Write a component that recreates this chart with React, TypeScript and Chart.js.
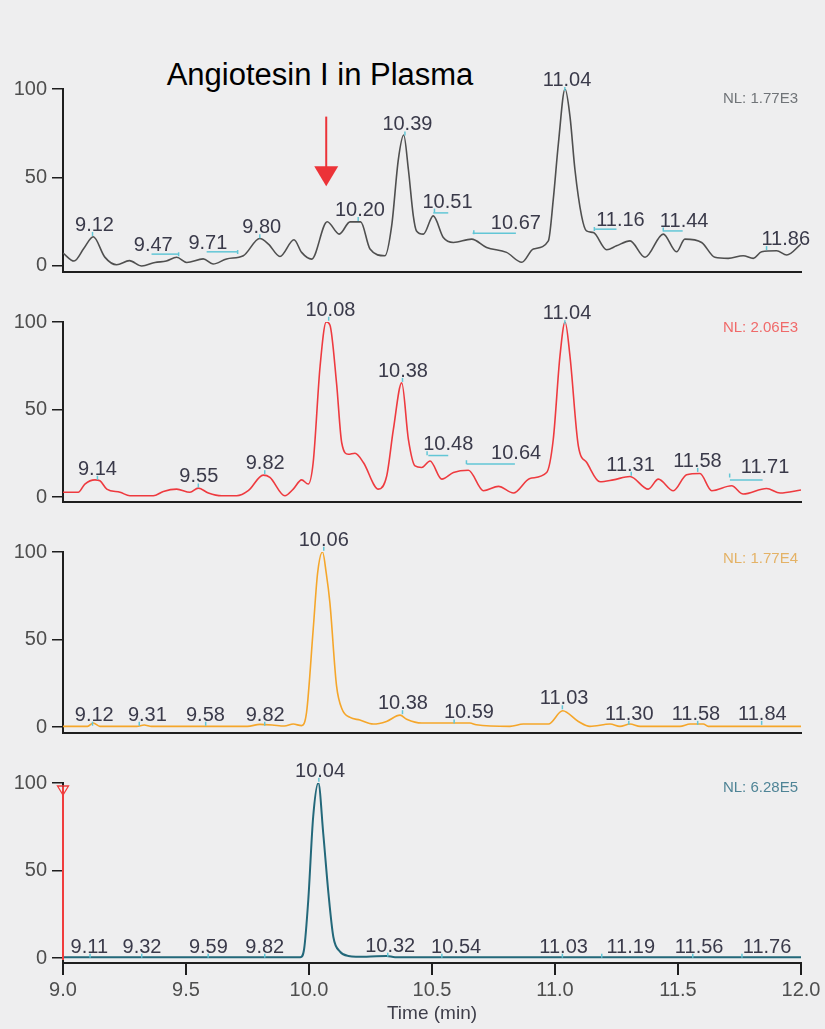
import React, { useEffect, useRef } from 'react';
import { Chart, registerables } from 'chart.js';

Chart.register(...registerables);

// ---------- data ----------
const titleText = 'Angiotesin I in Plasma';
const xAxisTitle = 'Time (min)';
const xTickValues = [9.0, 9.5, 10.0, 10.5, 11.0, 11.5, 12.0];
const yTickValues = [0, 50, 100];
const nlLabels = ['NL: 1.77E3', 'NL: 2.06E3', 'NL: 1.77E4', 'NL: 6.28E5'];
const nlLevels = [92.3, 94.1, 93.9, 94.7];

// panel 1 (grey)
const times1 = [9.0, 9.045, 9.085, 9.123, 9.17, 9.218, 9.27, 9.32, 9.374, 9.42, 9.462, 9.503, 9.57, 9.61, 9.665, 9.733, 9.8, 9.835, 9.882, 9.939, 9.97, 10.011, 10.074, 10.123, 10.167, 10.21, 10.248, 10.309, 10.336, 10.363, 10.385, 10.404, 10.424, 10.437, 10.465, 10.505, 10.546, 10.587, 10.661, 10.722, 10.803, 10.865, 10.912, 10.973, 10.993, 11.014, 11.041, 11.061, 11.081, 11.108, 11.128, 11.156, 11.21, 11.25, 11.305, 11.366, 11.44, 11.494, 11.528, 11.596, 11.65, 11.704, 11.765, 11.806, 11.84, 11.901, 11.942, 12.0];
const values1 = [7.3, 2.8, 10, 16.5, 5, 0.7, 3, 0, 2, 2.8, 4.9, 2, 4, 1.1, 4, 5.8, 15.5, 12.4, 5.4, 14.8, 7.7, 3.9, 25, 18, 24.9, 24.9, 9.6, 5.8, 22.6, 60, 74, 54.5, 28.3, 19.8, 18, 28.3, 16.1, 13.3, 15.2, 10.5, 7.7, 2.1, 9.6, 14.2, 37.6, 69.5, 100, 84.4, 54.5, 28.3, 19.8, 18.9, 9.2, 11.4, 14.2, 4.9, 18, 8, 15.2, 13.3, 4.9, 4.3, 5.8, 4.3, 8, 8.6, 6.2, 12.4];
const labels1 = ['9.12', '9.47', '9.71', '9.80', '10.20', '10.39', '10.51', '10.67', '11.04', '11.16', '11.44', '11.86'];
const labelTimes1 = [9.128, 9.367, 9.589, 9.808, 10.207, 10.40, 10.563, 10.841, 11.049, 11.266, 11.525, 11.938];
const labelLevels1 = [19.8, 8.3, 9.6, 18.5, 28.3, 76.6, 33, 20.8, 101.7, 22.6, 22.3, 11.8];
const segStart1 = [9.36, 9.584, 10.505, 10.665, 11.163, 11.44];
const segEnd1 = [9.469, 9.709, 10.566, 10.841, 11.25, 11.519];
const segLevel1 = [6.7, 8, 30, 18.5, 20.8, 19.8];

// panel 2 (red)
const times2 = [9.0, 9.062, 9.089, 9.13, 9.15, 9.178, 9.232, 9.272, 9.367, 9.408, 9.462, 9.516, 9.55, 9.591, 9.645, 9.706, 9.753, 9.814, 9.841, 9.902, 9.936, 9.97, 9.997, 10.017, 10.045, 10.07, 10.085, 10.112, 10.133, 10.16, 10.187, 10.221, 10.282, 10.316, 10.343, 10.377, 10.404, 10.431, 10.458, 10.492, 10.54, 10.587, 10.648, 10.709, 10.77, 10.831, 10.898, 10.966, 10.993, 11.02, 11.041, 11.061, 11.095, 11.129, 11.183, 11.237, 11.305, 11.379, 11.42, 11.481, 11.535, 11.589, 11.637, 11.718, 11.765, 11.86, 11.915, 12.0];
const values2 = [2.7, 2.7, 7.4, 9.8, 9.3, 4.5, 2.7, 0.7, 0.7, 3.2, 4.5, 2.7, 5.1, 2.3, 0.7, 0.7, 3.6, 12.5, 11.2, 0.7, 4.5, 9.8, 7.4, 19.7, 74.6, 100, 98.3, 65, 31, 24.4, 25, 19.7, 4.5, 12.1, 38.6, 65.2, 33, 17.8, 16.9, 20.6, 10.2, 14, 15.3, 3.6, 6.1, 2.3, 10.6, 14, 33, 80.3, 100, 80.3, 29.1, 19.7, 8.7, 9.8, 11.7, 4.5, 10.2, 3.6, 12.7, 13.4, 3.6, 6.4, 1.7, 4.9, 2.3, 4];
const labels2 = ['9.14', '9.55', '9.82', '10.08', '10.38', '10.48', '10.64', '11.04', '11.31', '11.58', '11.71'];
const labelTimes2 = [9.14, 9.552, 9.822, 10.087, 10.382, 10.566, 10.842, 11.049, 11.307, 11.579, 11.854];
const labelLevels2 = [12.7, 8.3, 15.9, 103.6, 68.6, 26.7, 21.6, 101.5, 15, 17.2, 14];
const segStart2 = [10.485, 10.641, 11.711];
const segEnd2 = [10.566, 10.837, 11.844];
const segLevel2 = [23.7, 18.8, 9.7];

// panel 3 (orange)
const times3 = [9.0, 9.1, 9.123, 9.15, 9.3, 9.33, 9.36, 9.75, 9.8, 9.85, 9.9, 9.936, 9.97, 9.99, 10.017, 10.035, 10.055, 10.07, 10.085, 10.112, 10.135, 10.167, 10.207, 10.261, 10.315, 10.37, 10.397, 10.458, 10.654, 10.68, 10.817, 10.871, 10.973, 11.031, 11.095, 11.142, 11.224, 11.264, 11.305, 11.346, 11.508, 11.549, 11.603, 11.623, 12.0];
const values3 = [0.4, 0.4, 2.3, 0.4, 0.4, 1.2, 0.4, 0.4, 1.5, 1.2, 0.6, 1.7, 0.8, 8.3, 55.7, 88, 100, 88, 70.9, 23.5, 10, 5.5, 4, 1.7, 3.2, 6.8, 4.5, 2.3, 2.3, 1.3, 0.4, 1.7, 1.7, 9.3, 3.2, 0.4, 1.7, 0.4, 1.7, 0.4, 0.4, 1.7, 1.7, 0.4, 0.4];
const labels3 = ['9.12', '9.31', '9.58', '9.82', '10.06', '10.38', '10.59', '11.03', '11.30', '11.58', '11.84'];
const labelTimes3 = [9.127, 9.343, 9.579, 9.822, 10.06, 10.382, 10.65, 11.037, 11.302, 11.573, 11.843];
const labelLevels3 = [3.6, 3.6, 3.6, 3.6, 103.6, 10.2, 4.9, 13, 4.1, 4.1, 4.1];
const segStart3: number[] = [];
const segEnd3: number[] = [];
const segLevel3: number[] = [];

// panel 4 (teal)
const times4 = [9.0, 9.965, 9.98, 9.997, 10.017, 10.038, 10.058, 10.079, 10.099, 10.126, 10.16, 10.234, 10.315, 10.35, 12.0];
const values4 = [0.4, 0.4, 5, 33, 80.7, 100, 71, 37, 12, 3.6, 1.2, 0.7, 1.2, 0.4, 0.4];
const labels4 = ['9.11', '9.32', '9.59', '9.82', '10.04', '10.32', '10.54', '11.03', '11.19', '11.56', '11.76'];
const labelTimes4 = [9.107, 9.321, 9.591, 9.82, 10.045, 10.33, 10.598, 11.035, 11.308, 11.586, 11.862];
const labelLevels4 = [3, 3, 3, 3, 103.6, 3.6, 3, 3, 3, 3, 3];
const segStart4: number[] = [];
const segEnd4: number[] = [];
const segLevel4: number[] = [];

// annotations
const arrowTime = 10.07;
const arrowTopLevel = 84.4;
const arrowTipLevel = 45.1;
const markerTime = 9.0;

// ---------- style / layout ----------
const FAMILY = "'Liberation Sans', Arial, Helvetica, sans-serif";
const BG = '#eeeeef';
const AXIS = '#1e1e1e';
const TICK_TEXT = '#4e4e4e';
const LABEL_TEXT = '#3a3a4a';
const CYAN = '#62c6d6';
const PAD_TOP = 40;
const X_AXIS_H = 62;
const X_HIDDEN_H = 16;
const CANVAS_W = 825;
const AREA_LEFT = 63;
const AREA_RIGHT = 801;

type Panel = {
  times: number[]; values: number[];
  labels: string[]; labelTimes: number[]; labelLevels: number[];
  segStart: number[]; segEnd: number[]; segLevel: number[];
  nl: string; nlLevel: number;
  color: string; nlColor: string; lineWidth: number;
  yMin: number; top: number; bottom: number;
  showX: boolean; arrow: boolean; marker: boolean;
};

const panels: Panel[] = [
  { times: times1, values: values1, labels: labels1, labelTimes: labelTimes1, labelLevels: labelLevels1,
    segStart: segStart1, segEnd: segEnd1, segLevel: segLevel1, nl: nlLabels[0], nlLevel: nlLevels[0],
    color: '#4f4f4f', nlColor: '#707478', lineWidth: 1.6, yMin: -3.4, top: 89, bottom: 273,
    showX: false, arrow: true, marker: false },
  { times: times2, values: values2, labels: labels2, labelTimes: labelTimes2, labelLevels: labelLevels2,
    segStart: segStart2, segEnd: segEnd2, segLevel: segLevel2, nl: nlLabels[1], nlLevel: nlLevels[1],
    color: '#ee3a3f', nlColor: '#f06a6a', lineWidth: 1.6, yMin: -2.85, top: 322, bottom: 503,
    showX: false, arrow: false, marker: false },
  { times: times3, values: values3, labels: labels3, labelTimes: labelTimes3, labelLevels: labelLevels3,
    segStart: segStart3, segEnd: segEnd3, segLevel: segLevel3, nl: nlLabels[2], nlLevel: nlLevels[2],
    color: '#f5a62a', nlColor: '#e4b266', lineWidth: 1.6, yMin: -3.4, top: 552, bottom: 734,
    showX: false, arrow: false, marker: false },
  { times: times4, values: values4, labels: labels4, labelTimes: labelTimes4, labelLevels: labelLevels4,
    segStart: segStart4, segEnd: segEnd4, segLevel: segLevel4, nl: nlLabels[3], nlLevel: nlLevels[3],
    color: '#23687a', nlColor: '#4f8496', lineWidth: 2, yMin: -2.86, top: 783, bottom: 963,
    showX: true, arrow: false, marker: true },
];

function makeAnnotPlugin(p: Panel, id: string) {
  return {
    id,
    afterDatasetsDraw(chart: any) {
      const { ctx, chartArea } = chart;
      const xs = chart.scales.x;
      const ys = chart.scales.y;
      ctx.save();
      // cyan baseline segments
      ctx.strokeStyle = CYAN;
      ctx.lineWidth = 1.5;
      p.segStart.forEach((t0, i) => {
        const yy = ys.getPixelForValue(p.segLevel[i]);
        ctx.beginPath();
        ctx.moveTo(xs.getPixelForValue(t0), yy);
        ctx.lineTo(xs.getPixelForValue(p.segEnd[i]), yy);
        ctx.stroke();
      });
      // peak labels
      ctx.font = `20px ${FAMILY}`;
      ctx.fillStyle = LABEL_TEXT;
      ctx.textAlign = 'center';
      ctx.textBaseline = 'alphabetic';
      p.labels.forEach((lab, i) => {
        const lx = xs.getPixelForValue(p.labelTimes[i]);
        const ly = ys.getPixelForValue(p.labelLevels[i]);
        const rx = xs.getPixelForValue(parseFloat(lab));
        ctx.beginPath();
        ctx.moveTo(rx, ly + 1);
        ctx.lineTo(rx, ly + 5);
        ctx.stroke();
        ctx.fillText(lab, lx, ly);
      });
      // NL label
      ctx.font = `15px ${FAMILY}`;
      ctx.fillStyle = p.nlColor;
      ctx.textAlign = 'right';
      ctx.fillText(p.nl, chartArea.right - 3, ys.getPixelForValue(p.nlLevel));
      // arrow
      if (p.arrow) {
        const ax = xs.getPixelForValue(arrowTime);
        const yTop = ys.getPixelForValue(arrowTopLevel);
        const yTip = ys.getPixelForValue(arrowTipLevel);
        ctx.strokeStyle = '#ec3338';
        ctx.fillStyle = '#ec3338';
        ctx.lineWidth = 2;
        ctx.beginPath();
        ctx.moveTo(ax, yTop);
        ctx.lineTo(ax, yTip - 18);
        ctx.stroke();
        ctx.beginPath();
        ctx.moveTo(ax - 12, yTip - 20);
        ctx.lineTo(ax + 12, yTip - 20);
        ctx.lineTo(ax, yTip);
        ctx.closePath();
        ctx.fill();
      }
      // red marker at start
      if (p.marker) {
        const mx = xs.getPixelForValue(markerTime);
        const yTop = ys.getPixelForValue(100);
        const yBot = ys.getPixelForValue(0);
        ctx.strokeStyle = '#f03c3c';
        ctx.lineWidth = 2;
        ctx.beginPath();
        ctx.moveTo(mx, yTop + 4);
        ctx.lineTo(mx, yBot + 2);
        ctx.stroke();
        ctx.lineWidth = 1.3;
        ctx.beginPath();
        ctx.moveTo(mx - 5.5, yTop + 3);
        ctx.lineTo(mx + 5.5, yTop + 3);
        ctx.lineTo(mx, yTop + 12);
        ctx.closePath();
        ctx.stroke();
      }
      ctx.restore();
    },
  };
}

function PanelChart({ p, idx }: { p: Panel; idx: number }) {
  const ref = useRef<HTMLCanvasElement | null>(null);
  const extra = p.showX ? X_AXIS_H : X_HIDDEN_H;
  const height = p.bottom - p.top + PAD_TOP + extra;

  useEffect(() => {
    if (!ref.current) return;
    const chart = new Chart(ref.current, {
      type: 'line',
      data: {
        datasets: [{
          data: p.times.map((t, i) => ({ x: t, y: p.values[i] })),
          borderColor: p.color,
          borderWidth: p.lineWidth,
          pointRadius: 0,
          cubicInterpolationMode: 'monotone',
          fill: false,
        }],
      },
      options: {
        animation: false,
        responsive: true,
        maintainAspectRatio: false,
        events: [],
        layout: { padding: { top: PAD_TOP, left: 0, right: CANVAS_W - AREA_RIGHT, bottom: 0 } },
        plugins: { legend: { display: false }, tooltip: { enabled: false }, title: { display: false } },
        scales: {
          x: {
            type: 'linear',
            min: 9,
            max: 12,
            afterBuildTicks: (s: any) => { s.ticks = xTickValues.map((v) => ({ value: v })); },
            afterFit: (s: any) => { s.height = extra; },
            grid: { display: p.showX, drawOnChartArea: false, drawTicks: true, tickLength: 12, color: AXIS, lineWidth: 2 },
            border: { display: true, color: AXIS, width: 2 },
            ticks: {
              display: p.showX,
              font: { family: FAMILY, size: 20 },
              color: TICK_TEXT,
              padding: 3,
              maxRotation: 0,
              autoSkip: false,
              callback: (v: any) => Number(v).toFixed(1),
            },
            title: {
              display: p.showX,
              text: xAxisTitle,
              font: { family: FAMILY, size: 19 },
              color: '#3e3e4a',
              padding: { top: 0, bottom: 0 },
            },
          },
          y: {
            min: p.yMin,
            max: 100,
            afterBuildTicks: (s: any) => { s.ticks = yTickValues.map((v) => ({ value: v })); },
            afterFit: (s: any) => { s.width = AREA_LEFT; },
            grid: { display: true, drawOnChartArea: false, drawTicks: true, tickLength: 11, color: AXIS, lineWidth: 1.5 },
            border: { display: true, color: AXIS, width: 2 },
            ticks: { font: { family: FAMILY, size: 20 }, color: TICK_TEXT, padding: 5 },
          },
        },
      } as any,
      plugins: [makeAnnotPlugin(p, 'annot' + idx)],
    });
    return () => chart.destroy();
  }, []);

  return (
    <div style={{ position: 'absolute', left: 0, top: p.top - PAD_TOP, width: CANVAS_W, height }}>
      <canvas ref={ref} />
    </div>
  );
}

export default function App() {
  useEffect(() => {
    document.body.style.margin = '0';
  }, []);
  return (
    <div style={{ position: 'absolute', left: 0, top: 0, width: 825, height: 1029, background: BG, overflow: 'hidden' }}>
      <div
        style={{
          position: 'absolute', left: 0, top: 59, width: 640, textAlign: 'center',
          fontFamily: FAMILY, fontSize: 31, lineHeight: '31px', color: '#000',
        }}
      >
        {titleText}
      </div>
      {panels.map((p, i) => (
        <PanelChart key={i} p={p} idx={i} />
      ))}
    </div>
  );
}
